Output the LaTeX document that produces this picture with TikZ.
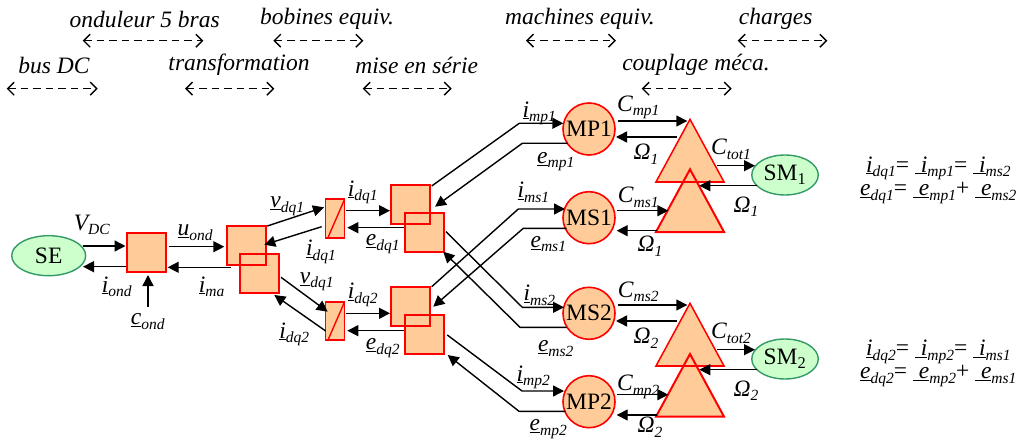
\documentclass[tikz,border=0pt]{standalone}
\usepackage{fontspec}
\setmainfont{Liberation Serif}
\usetikzlibrary{arrows.meta,shapes.geometric}
\definecolor{peach}{HTML}{FFCC99}
\definecolor{mint}{HTML}{CCFFCC}
\definecolor{sea}{HTML}{339966}
\newcommand{\subt}[1]{\raisebox{-.2em}{\fontsize{15.5}{16}\selectfont #1}}
\newcommand{\U}[2]{\textit{\underline{#1}\subt{#2}}}
\newcommand{\N}[2]{\textit{#1\subt{#2}}}
\newcommand{\UU}[2]{\textit{\underline{\ #1}\subt{#2}}}
\tikzset{
  x=1pt,y=-1pt,
  blockbox/.style={draw=red,fill=peach,line width=2pt,minimum size=39pt,inner sep=0pt,outer sep=0pt,shape=rectangle},
  thinbox/.style={draw=red,fill=peach,line width=1.7pt,minimum width=19pt,minimum height=38.5pt,inner sep=0pt,shape=rectangle},
  machine/.style={draw=red,fill=peach,line width=1.6pt,circle,minimum size=52pt,inner sep=0pt,font=\fontsize{23.5}{25}\selectfont},
  source/.style={draw=sea,fill=mint,line width=1.4pt,ellipse,minimum width=#1,minimum height=40pt,inner sep=0pt,font=\fontsize{23.5}{25}\selectfont},
  coupler/.style={draw=red,fill=peach,line width=#1,isosceles triangle,isosceles triangle apex angle=57,shape border rotate=90,minimum height=62.7pt,inner sep=0pt,outer sep=0pt,anchor=apex},
  seen/.style={draw=red,line width=2pt},
  conn/.style={draw=black,line width=1.4pt,-{Triangle[length=11pt,width=11pt]}},
  span/.style={draw=black,line width=1.4pt,dash pattern=on 7.5pt off 5pt,{Straight Barb[length=6.5pt,width=13pt,line width=1.4pt]}-{Straight Barb[length=6.5pt,width=13pt,line width=1.4pt]}},
  lbl/.style={inner sep=0pt,font=\fontsize{23.5}{25}\selectfont},
  head/.style={inner sep=0pt,font=\fontsize{23.5}{25}\selectfont\itshape},
}
\begin{document}
\begin{tikzpicture}
\useasboundingbox (0,0) rectangle (1020,441);
% headers
\node[head] (h1) at (144.7,19) {onduleur 5 bras};
\node[head] (h2) at (327,19) {bobines equiv.};
\node[head] (h3) at (580,19) {machines equiv.};
\node[head] (h4) at (775.7,19) {charges};
\node[head] (h5) at (54,65) {bus DC};
\node[head] (h6) at (239,65) {transformation};
\node[head] (h7) at (416.7,65) {mise en série};
\node[head] (h8) at (696,65) {couplage méca.};
\coordinate (s1a) at (82.7,40.7); \coordinate (s1b) at (203.3,40.7);
\coordinate (s2a) at (273.3,40.7); \coordinate (s2b) at (363.3,40.7);
\coordinate (s3a) at (526,40.7); \coordinate (s3b) at (616,40.7);
\coordinate (s4a) at (737.7,40.7); \coordinate (s4b) at (827.3,40.7);
\coordinate (s5a) at (6.7,88.7); \coordinate (s5b) at (97.7,88.7);
\coordinate (s6a) at (185,88.7); \coordinate (s6b) at (274.3,88.7);
\coordinate (s7a) at (362.7,88.7); \coordinate (s7b) at (451.7,88.7);
\coordinate (s8a) at (641.7,88.7); \coordinate (s8b) at (731.7,88.7);
\foreach \k in {1,...,8} {\draw[span] (s\k a) -- (s\k b);}
% blocks
\node[source=74pt] (se) at (48.7,255.7) {SE};
\node[blockbox] (b1) at (146.3,252.5) {};
\node[blockbox] (b2) at (246,245.7) {};
\node[blockbox] (b3) at (259.5,273) {};
\draw[seen] (b2.south west) rectangle (b2.north east);
\node[thinbox] (s1) at (335,218.5) {};
\draw[red,line width=1.4pt] ([shift={(-7,19)}]s1.center) -- ([shift={(9.5,-19)}]s1.center);
\node[thinbox] (s2) at (335,321) {};
\draw[red,line width=1.4pt] ([shift={(-7,19)}]s2.center) -- ([shift={(9.5,-19)}]s2.center);
\node[blockbox] (a) at (410,204.7) {};
\node[blockbox] (bb) at (424,232) {};
\draw[seen] (a.south west) rectangle (a.north east);
\node[blockbox] (c) at (410,306.7) {};
\node[blockbox] (d) at (424,334) {};
\draw[seen] (c.south west) rectangle (c.north east);
\node[machine] (mp1) at (589,129) {MP1};
\node[machine] (ms1) at (589,217.7) {MS1};
\node[machine] (ms2) at (589,313.3) {MS2};
\node[machine] (mp2) at (589,401.7) {MP2};
\node[coupler=1.5pt] (t1) at (690,119.3) {};
\node[coupler=2pt] (t2) at (690,169.3) {};
\draw[seen,line width=1.5pt] (t1.left corner) -- (t1.right corner);
\node[coupler=1.5pt] (t3) at (690,303.3) {};
\node[coupler=2pt] (t4) at (690,354) {};
\draw[seen,line width=1.5pt] (t3.left corner) -- (t3.right corner);
\node[source=66.5pt] (sm1) at (785,175) {SM\textsubscript{1}};
\node[source=66.5pt] (sm2) at (785,359) {SM\textsubscript{2}};
% connectors left
\draw[conn] ([shift={(34,-9.7)}]se.center) -- ([shift={(-20.8,-6.5)}]b1.center);
\draw[conn] ([shift={(-20.3,14.2)}]b1.center) -- ([shift={(34.3,11)}]se.center);
\draw[conn] ([shift={(22.7,-5.8)}]b1.center) -- ([shift={(-21.7,1)}]b2.center);
\draw[conn] ([shift={(-15,21.6)}]b2.center) -- ([shift={(21.4,14.8)}]b1.center);
\coordinate (cin) at (148,306.7);
\draw[conn] (cin) -- ([shift={(1.7,22.5)}]b1.center);
\draw[conn] ([shift={(21.3,-19.7)}]b2.center) -- ([shift={(-11,-11.2)}]s1.center);
\draw[conn] ([shift={(-13.3,8.2)}]s1.center) -- ([shift={(18.3,-1)}]b2.center);
\draw[conn] ([shift={(21.5,4.3)}]b3.center) -- ([shift={(-7.3,-9.3)}]s2.center);
\draw[conn] ([shift={(-9.3,10)}]s2.center) -- ([shift={(14.8,22)}]b3.center);
\draw[conn] ([shift={(11,-7.8)}]s1.center) -- ([shift={(-20,6)}]a.center);
\draw[conn] ([shift={(-19.7,-4.3)}]bb.center) -- ([shift={(12.3,9.2)}]s1.center);
\draw[conn] ([shift={(11,-7.7)}]s2.center) -- ([shift={(-20,6.6)}]c.center);
\draw[conn] ([shift={(-19.7,-3.3)}]d.center) -- ([shift={(12.3,9.7)}]s2.center);
% connectors to machines
\draw[conn] ([shift={(21.7,-18.7)}]a.center) -- ([shift={(-69.7,-5.7)}]mp1.center) -- ([shift={(-25.7,-5.7)}]mp1.center);
\draw[conn] ([shift={(-21.3,14.3)}]mp1.center) -- ([shift={(-66.7,14.3)}]mp1.center) -- ([shift={(25,2)}]a.center);
\draw[conn] ([shift={(21.7,-20)}]c.center) -- ([shift={(-70.7,-8.7)}]ms1.center) -- ([shift={(-24,-8.7)}]ms1.center);
\draw[conn] ([shift={(-22.3,10.6)}]ms1.center) -- ([shift={(-65.7,10.6)}]ms1.center) -- ([shift={(23.3,0)}]c.center);
\draw[conn] ([shift={(22,-0.3)}]bb.center) -- ([shift={(-66.7,-6)}]ms2.center) -- ([shift={(-25,-6)}]ms2.center);
\draw[conn] ([shift={(-22.3,14)}]ms2.center) -- ([shift={(-69,14)}]ms2.center) -- ([shift={(19.3,19.7)}]bb.center);
\draw[conn] ([shift={(23.3,1)}]d.center) -- ([shift={(-67,-10.7)}]mp2.center) -- ([shift={(-25,-10.7)}]mp2.center);
\draw[conn] ([shift={(-23.3,9.6)}]mp2.center) -- ([shift={(-70,9.6)}]mp2.center) -- ([shift={(23.7,21)}]d.center);
% connectors right
\draw[conn] ([shift={(28.7,-8)}]mp1.center) -- ([shift={(-2.7,1.7)}]t1.apex);
\draw[conn] ([shift={(-12.7,17.7)}]t1.apex) -- ([shift={(27,8)}]mp1.center);
\draw[conn] ([shift={(28.3,-7)}]ms1.center) -- ([shift={(-21.7,41.4)}]t2.apex);
\draw[conn] ([shift={(-33.3,61.4)}]t2.apex) -- ([shift={(27.7,13)}]ms1.center);
\draw[conn] ([shift={(27.3,46.4)}]t1.apex) -- ([shift={(-30,-9.3)}]sm1.center);
\draw[conn] ([shift={(-28.3,10.7)}]sm1.center) -- ([shift={(9.3,16.4)}]t2.apex);
\draw[conn] ([shift={(28.7,-8.3)}]ms2.center) -- ([shift={(-2.7,1.7)}]t3.apex);
\draw[conn] ([shift={(-12.7,17.7)}]t3.apex) -- ([shift={(27,7.7)}]ms2.center);
\draw[conn] ([shift={(28.3,-7)}]mp2.center) -- ([shift={(-21.7,40.7)}]t4.apex);
\draw[conn] ([shift={(-33.3,61)}]t4.apex) -- ([shift={(27.7,13.3)}]mp2.center);
\draw[conn] ([shift={(27.3,46.4)}]t3.apex) -- ([shift={(-30,-9.3)}]sm2.center);
\draw[conn] ([shift={(-28.3,10.7)}]sm2.center) -- ([shift={(9.3,15.7)}]t4.apex);
% labels
\node[lbl] (l1) at (91.7,225) {\N{V}{DC}};
\node[lbl] (l2) at (116.7,286.7) {\U{i}{ond}};
\node[lbl] (l3) at (147.7,321.7) {\U{c}{ond}};
\node[lbl] (l4) at (195,233) {\U{u}{ond}};
\node[lbl] (l5) at (211.7,286.7) {\U{i}{ma}};
\node[lbl] (l6) at (287.3,206) {\U{v}{dq1}};
\node[lbl] (l7) at (321,251.7) {\U{i}{dq1}};
\node[lbl] (l8) at (316.7,281.7) {\U{v}{dq1}};
\node[lbl] (l9) at (294.3,334.3) {\U{i}{dq2}};
\node[lbl] (l10) at (362.7,192.3) {\U{i}{dq1}};
\node[lbl] (l11) at (382.7,244) {\U{e}{dq1}};
\node[lbl] (l12) at (362.7,295) {\U{i}{dq2}};
\node[lbl] (l13) at (382.7,348.3) {\U{e}{dq2}};
\node[lbl] (l14) at (539.3,113.3) {\U{i}{mp1}};
\node[lbl] (l15) at (555.7,161.7) {\U{e}{mp1}};
\node[lbl] (l16) at (533.3,192.3) {\U{i}{ms1}};
\node[lbl] (l17) at (548.3,244) {\U{e}{ms1}};
\node[lbl] (l18) at (539.3,295) {\U{i}{ms2}};
\node[lbl] (l19) at (555.7,348.3) {\U{e}{ms2}};
\node[lbl] (l20) at (533.3,377.3) {\U{i}{mp2}};
\node[lbl] (l21) at (548.3,429) {\U{e}{mp2}};
\node[lbl] (l22) at (638.3,107.3) {\N{C}{mp1}};
\node[lbl] (l23) at (646,154) {\N{Ω}{1}};
\node[lbl] (l24) at (638.3,197.3) {\N{C}{ms1}};
\node[lbl] (l25) at (650,246) {\N{Ω}{1}};
\node[lbl] (l26) at (731,149) {\N{C}{tot1}};
\node[lbl] (l27) at (746,206.7) {\N{Ω}{1}};
\node[lbl] (l28) at (638.3,291.7) {\N{C}{ms2}};
\node[lbl] (l29) at (646,338.3) {\N{Ω}{2}};
\node[lbl] (l30) at (638.3,386.7) {\N{C}{mp2}};
\node[lbl] (l31) at (650,427.5) {\N{Ω}{2}};
\node[lbl] (l32) at (731,333.3) {\N{C}{tot2}};
\node[lbl] (l33) at (746,390.7) {\N{Ω}{2}};
\node[lbl] (q1) at (938.3,168.3) {\U{i}{dq1}= \UU{i}{mp1}= \UU{i}{ms2}};
\node[lbl] (q2) at (938.3,193.3) {\U{e}{dq1}= \UU{e}{mp1}+ \UU{e}{ms2}};
\node[lbl] (q3) at (938.3,352) {\U{i}{dq2}= \UU{i}{mp2}= \UU{i}{ms1}};
\node[lbl] (q4) at (938.3,376) {\U{e}{dq2}= \UU{e}{mp2}+ \UU{e}{ms1}};
\end{tikzpicture}
\end{document}
